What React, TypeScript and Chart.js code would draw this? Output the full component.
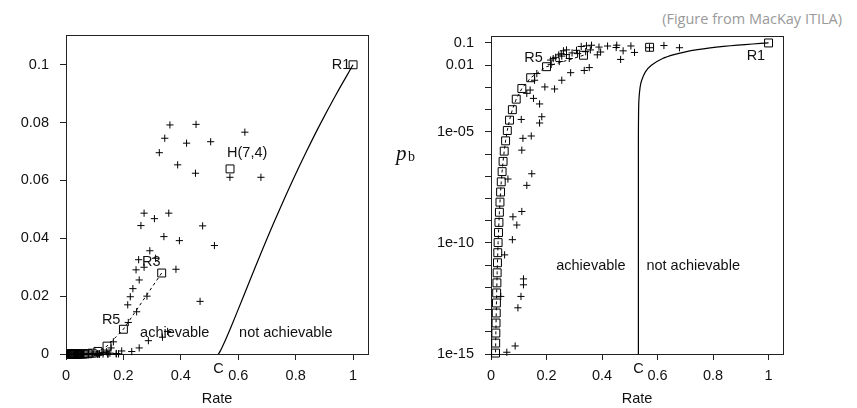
import React, { useEffect, useRef } from 'react';
import { Chart, registerables } from 'chart.js';

Chart.register(...registerables);

// Repetition codes R1, R3, ..., R61 (rate, bit error probability)
const repRate = [1, 0.3333, 0.2, 0.1429, 0.1111, 0.0909, 0.0769, 0.0667, 0.0588, 0.0526, 0.0476, 0.0435, 0.04, 0.037, 0.0345, 0.0323, 0.0303, 0.0286, 0.027, 0.0256, 0.0244, 0.0233, 0.0222, 0.0213, 0.0204, 0.0196, 0.0189, 0.0182, 0.0175, 0.0169, 0.0164];
const repPb = [0.1, 0.028, 0.00856, 0.002728, 8.91e-4, 2.957e-4, 9.93e-5, 3.36e-5, 1.146e-5, 3.93e-6, 1.353e-6, 4.68e-7, 1.62e-7, 5.63e-8, 1.96e-8, 6.85e-9, 2.4e-9, 8.39e-10, 2.94e-10, 1.034e-10, 3.64e-11, 1.28e-11, 4.51e-12, 1.59e-12, 5.61e-13, 1.98e-13, 7.0e-14, 2.48e-14, 8.77e-15, 3.1e-15, 1.1e-15];

// Hamming code H(7,4)
const hamRate = [0.5714];
const hamPb = [0.064];

// BCH codes (+ markers)
const bchRate = [0.362, 0.453, 0.623, 0.344, 0.42, 0.504, 0.325, 0.389, 0.451, 0.571, 0.679,
  0.272, 0.358, 0.308, 0.261, 0.476, 0.341, 0.395, 0.517, 0.292, 0.253, 0.272, 0.244, 0.383, 0.312,
  0.255, 0.233, 0.224, 0.282, 0.215, 0.467, 0.246, 0.217, 0.354, 0.336, 0.287, 0.255, 0.165, 0.157,
  0.229, 0.194, 0.141, 0.129, 0.153, 0.175, 0.183, 0.175, 0.109, 0.145, 0.115, 0.111, 0.147, 0.061,
  0.129, 0.111, 0.079, 0.093, 0.077, 0.049, 0.117, 0.117, 0.035, 0.108, 0.097, 0.087, 0.057];
const bchPb = [0.0792, 0.0794, 0.0767, 0.0746, 0.0729, 0.0734, 0.0696, 0.0654, 0.0625, 0.0611, 0.0611,
  0.0487, 0.0487, 0.0468, 0.0444, 0.0443, 0.0406, 0.0392, 0.0375, 0.0357, 0.0326, 0.03, 0.0291, 0.0293, 0.0331,
  0.0256, 0.0226, 0.0198, 0.02, 0.017, 0.0182, 0.0146, 0.0109, 0.0078, 0.0058, 0.0046, 0.0021, 0.0042, 0.0021,
  0.00085, 0.00105, 7.6e-4, 5.4e-4, 3.2e-4, 1.8e-4, 4.8e-5, 2.5e-5, 3.6e-5, 6.5e-6, 5.1e-6, 1.5e-6, 1.3e-7, 7.5e-8,
  3.9e-8, 2.6e-9, 1.5e-9, 6.4e-10, 1.4e-10, 2.9e-11, 2.4e-12, 1.3e-12, 3.9e-13, 3.9e-13, 1.2e-13, 2.3e-15, 1.2e-15];

// Shannon limit curve (achievable / not achievable boundary)
const limitRate = [0.531, 0.531, 0.531, 0.5311, 0.5318, 0.5331, 0.5371, 0.5423, 0.5563, 0.5777, 0.6184, 0.6591, 0.7008, 0.7441, 0.7895, 0.8375, 0.8882, 0.9423, 1.0];
const limitPb = [1e-15, 1e-9, 1e-6, 1e-5, 1e-4, 3e-4, 1e-3, 0.002, 0.005, 0.01, 0.02, 0.03, 0.04, 0.05, 0.06, 0.07, 0.08, 0.09, 0.1];

const xTicks = [0, 0.2, 0.4, 0.6, 0.8, 1];
const yTicksLin = [0, 0.02, 0.04, 0.06, 0.08, 0.1];
const yTicksLog = [1e-15, 1e-14, 1e-13, 1e-12, 1e-11, 1e-10, 1e-9, 1e-8, 1e-7, 1e-6, 1e-5, 1e-4, 1e-3, 1e-2, 1e-1];
const yLogLabelExp = [-1, -2, -5, -10, -15];
const yLogLabelText = ['0.1', '0.01', '1e-05', '1e-10', '1e-15'];

const FONT = '"Liberation Sans", Arial, Helvetica, sans-serif';
const INK = '#111';

type Note = { text: string; x: number; y?: number; below?: number; align: CanvasTextAlign };

const notesLin: Note[] = [
  { text: 'R1', x: 0.99, y: 0.1, align: 'right' },
  { text: 'H(7,4)', x: 0.561, y: 0.0695, align: 'left' },
  { text: 'R3', x: 0.265, y: 0.0319, align: 'left' },
  { text: 'R5', x: 0.125, y: 0.0118, align: 'left' },
  { text: 'achievable', x: 0.258, y: 0.0072, align: 'left' },
  { text: 'not achievable', x: 0.603, y: 0.0072, align: 'left' },
  { text: 'C', x: 0.531, below: 15, align: 'center' },
];

const notesLog: Note[] = [
  { text: 'R5', x: 0.12, y: 0.022, align: 'left' },
  { text: 'R1', x: 0.921, y: 0.0247, align: 'left' },
  { text: 'achievable', x: 0.235, y: 9.5e-12, align: 'left' },
  { text: 'not achievable', x: 0.56, y: 9.5e-12, align: 'left' },
  { text: 'C', x: 0.531, below: 15, align: 'center' },
];

const zip = (xs: number[], ys: number[]) => xs.map((x, i) => ({ x, y: ys[i] }));

function fmtLin(v: number) {
  return String(Math.round(v * 100) / 100);
}

function makeConfig(log: boolean, yAxisWidth: number, pad: { left: number; right: number; top: number; bottom: number }) {
  const notes = log ? notesLog : notesLin;
  const framePlugin = {
    id: 'frame',
    beforeDatasetsDraw(chart: any) {
      const { ctx, chartArea: a } = chart;
      ctx.save();
      ctx.strokeStyle = '#222';
      ctx.lineWidth = 1;
      ctx.strokeRect(Math.round(a.left) + 0.5, Math.round(a.top) + 0.5, Math.round(a.right - a.left), Math.round(a.bottom - a.top));
      ctx.restore();
    },
  };
  const notePlugin = {
    id: 'notes',
    afterDatasetsDraw(chart: any) {
      const { ctx, chartArea: a } = chart;
      const xs = chart.scales.x;
      const ys = chart.scales.y;
      ctx.save();
      ctx.font = '14.5px ' + FONT;
      ctx.fillStyle = INK;
      ctx.textBaseline = 'middle';
      for (const n of notes) {
        const px = xs.getPixelForValue(n.x);
        const py = n.below !== undefined ? a.bottom + n.below : ys.getPixelForValue(n.y);
        ctx.textAlign = n.align;
        ctx.fillText(n.text, px, py);
      }
      if (log) {
        ctx.textAlign = 'left';
        ctx.textBaseline = 'alphabetic';
        ctx.font = 'italic 21px "Liberation Serif", "DejaVu Serif", serif';
        ctx.fillText('p', 16, 160);
        ctx.font = '14px "Liberation Serif", "DejaVu Serif", serif';
        ctx.fillText('b', 28, 161);
      }
      ctx.restore();
    },
  };

  const markerCommon = {
    pointBorderColor: '#000',
    pointBackgroundColor: 'rgba(0,0,0,0)',
    pointBorderWidth: 1,
    clip: false as any,
  };

  return {
    type: 'scatter' as const,
    data: {
      datasets: [
        {
          label: 'limit',
          data: zip(limitRate, limitPb),
          showLine: true,
          borderColor: '#000',
          borderWidth: 1.2,
          pointRadius: 0,
          fill: false,
          tension: 0.3,
        },
        {
          label: 'repetition',
          data: zip(repRate.slice(1), repPb.slice(1)),
          showLine: true,
          borderColor: '#000',
          borderWidth: 1,
          borderDash: [3, 3],
          pointStyle: 'rect',
          pointRadius: 5.6,
          ...markerCommon,
        },
        {
          label: 'R1',
          data: zip(repRate.slice(0, 1), repPb.slice(0, 1)),
          pointStyle: 'rect',
          pointRadius: 5.6,
          ...markerCommon,
        },
        {
          label: 'H(7,4)',
          data: zip(hamRate, hamPb),
          pointStyle: 'rect',
          pointRadius: 5.6,
          ...markerCommon,
        },
        {
          label: 'BCH',
          data: zip(bchRate, bchPb),
          pointStyle: 'cross',
          pointRadius: 3.6,
          ...markerCommon,
        },
      ],
    },
    options: {
      responsive: false,
      animation: false,
      devicePixelRatio: 1,
      layout: { padding: pad },
      plugins: { legend: { display: false }, tooltip: { enabled: false }, title: { display: false } },
      scales: {
        x: {
          type: 'linear',
          min: 0,
          max: 1.052,
          border: { display: false },
          grid: { display: true, drawOnChartArea: false, drawTicks: true, tickLength: 6, color: '#222' },
          ticks: {
            autoSkip: false,
            maxRotation: 0,
            padding: 7,
            color: INK,
            font: { family: FONT, size: 14.5 },
            callback: (v: any) => fmtLin(Number(v)),
          },
          afterBuildTicks: (s: any) => {
            s.ticks = xTicks.map((v) => ({ value: v }));
          },
          afterFit: (s: any) => {
            s.height = 54;
          },
          title: {
            display: true,
            text: 'Rate',
            color: INK,
            font: { family: FONT, size: 14.5 },
            padding: { top: 0, bottom: 0 },
          },
        },
        y: log
          ? {
              type: 'logarithmic',
              min: 1e-15,
              max: 0.206,
              border: { display: false },
              grid: { display: true, drawOnChartArea: false, drawTicks: true, tickLength: 6, color: '#222' },
              ticks: {
                autoSkip: false,
                padding: 11,
                color: INK,
                font: { family: FONT, size: 14.5 },
                callback: (v: any) => {
                  const e = Math.round(Math.log10(Number(v)));
                  const k = yLogLabelExp.indexOf(e);
                  return k >= 0 ? yLogLabelText[k] : '';
                },
              },
              afterBuildTicks: (s: any) => {
                s.ticks = yTicksLog.map((v) => ({ value: v }));
              },
              afterFit: (s: any) => {
                s.width = yAxisWidth;
              },
            }
          : {
              type: 'linear',
              min: 0,
              max: 0.1103,
              border: { display: false },
              grid: { display: true, drawOnChartArea: false, drawTicks: true, tickLength: 6, color: '#222' },
              ticks: {
                autoSkip: false,
                padding: 11,
                color: INK,
                font: { family: FONT, size: 14.5 },
                callback: (v: any) => fmtLin(Number(v)),
              },
              afterBuildTicks: (s: any) => {
                s.ticks = yTicksLin.map((v) => ({ value: v }));
              },
              afterFit: (s: any) => {
                s.width = yAxisWidth;
              },
            },
      },
    },
    plugins: [framePlugin, notePlugin],
  };
}

export default function App() {
  const leftRef = useRef<HTMLCanvasElement>(null);
  const rightRef = useRef<HTMLCanvasElement>(null);

  useEffect(() => {
    const left = new Chart(leftRef.current as HTMLCanvasElement, makeConfig(false, 66, { left: 0, right: 12, top: 35, bottom: 0 }) as any);
    const right = new Chart(rightRef.current as HTMLCanvasElement, makeConfig(true, 111, { left: 0, right: 74, top: 36, bottom: 0 }) as any);
    return () => {
      left.destroy();
      right.destroy();
    };
  }, []);

  return (
    <div style={{ position: 'absolute', left: 0, top: 0, width: 857, height: 408, background: '#fff', overflow: 'hidden' }}>
      <div
        style={{
          position: 'absolute',
          right: 15,
          top: 11,
          fontFamily: '"Open Sans", "Noto Sans", sans-serif',
          fontSize: 14.5,
          lineHeight: '16px',
          color: '#999',
          whiteSpace: 'nowrap',
        }}
      >
        (Figure from MacKay ITILA)
      </div>
      <canvas ref={leftRef} width={380} height={408} style={{ position: 'absolute', left: 0, top: 0, width: 380, height: 408 }} />
      <canvas ref={rightRef} width={477} height={408} style={{ position: 'absolute', left: 380, top: 0, width: 477, height: 408 }} />
    </div>
  );
}
